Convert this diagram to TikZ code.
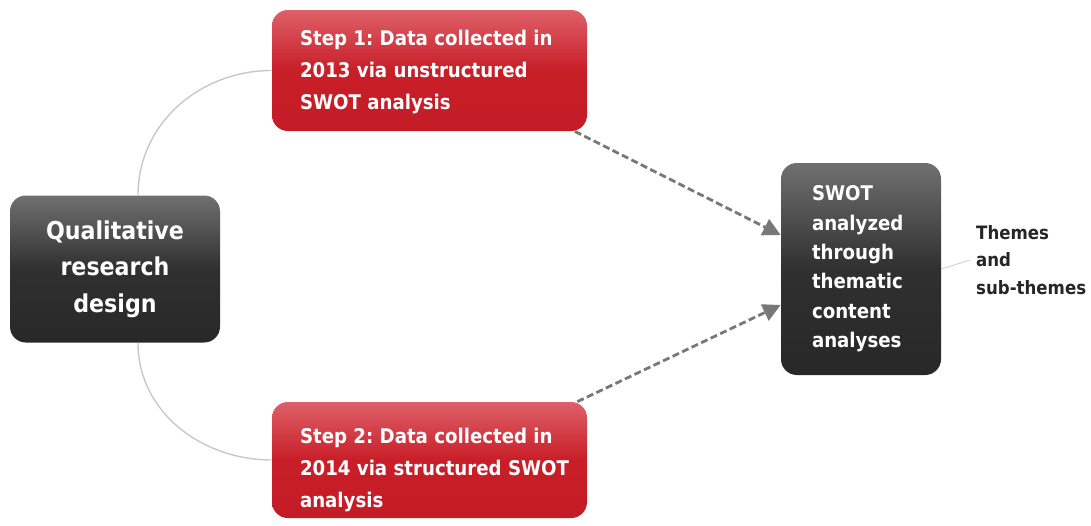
\documentclass[tikz,border=0pt]{standalone}
\usepackage{fontspec}
\setmainfont{DejaVu Sans Condensed}
\usepackage{tikz}
\usepackage{xcolor}
\usetikzlibrary{arrows.meta,positioning,calc}
\definecolor{dkT}{RGB}{112,112,112}
\definecolor{dkM}{RGB}{48,48,48}
\definecolor{dkB}{RGB}{40,40,40}
\definecolor{rdT}{RGB}{222,96,104}
\definecolor{rdM}{RGB}{200,30,40}
\definecolor{rdB}{RGB}{196,28,38}
\definecolor{lin}{RGB}{200,200,200}
\definecolor{arr}{RGB}{120,120,120}
\tikzset{
  darkbox/.style={rectangle,rounded corners=9pt,draw=none,
    top color=dkT,bottom color=dkB,middle color=dkM,
    text=white,font=\bfseries},
  redbox/.style={rectangle,rounded corners=9pt,draw=none,
    top color=rdT,bottom color=rdB,middle color=rdM,
    minimum width=6.3cm},
  redtext/.style={anchor=west,inner sep=0pt,align=left,text=white,
    font=\bfseries\fontsize{11.5}{18.2}\selectfont},
  branch/.style={draw=lin,thick},
  flow/.style={-{Triangle[width=10pt,length=10pt]},draw=arr,line width=1.6pt,dash pattern=on 4pt off 2pt},
}
\begin{document}
\frenchspacing
\begin{tikzpicture}
\useasboundingbox (0,0) rectangle (21.82,-10.5);

% --- main boxes ---
\node[darkbox,minimum width=4.2cm,minimum height=2.94cm,align=center,
  font=\bfseries\fontsize{14}{20.8}\selectfont] (Q) at (2.3,-5.38) {Qualitative\\research\\design};
\node[redbox,minimum height=2.42cm] (S1) at (8.59,-1.41) {};
\node[redtext] (S1t) at ([xshift=0.56cm,yshift=-0.03cm]S1.west)
  {Step 1: Data collected in\\2013 via unstructured\\SWOT analysis};
\node[redbox,minimum height=2.32cm] (S2) at (8.59,-9.2) {};
\node[redtext] (S2t) at ([xshift=0.56cm,yshift=-0.2cm]S2.west)
  {Step 2: Data collected in\\2014 via structured SWOT\\analysis};
\node[darkbox,minimum width=3.2cm,minimum height=4.24cm,align=left,text width=1.96cm,
  font=\bfseries\fontsize{11.5}{16.7}\selectfont] (W) at (17.22,-5.38)
  {SWOT\\analyzed\\through\\thematic\\content\\analyses};
\node[anchor=west,align=left,font=\bfseries\fontsize{10.5}{15.5}\selectfont,text=black!85] (T) at (19.4,-5.2)
  {Themes\\and\\sub-themes};

% --- branches ---
\draw[branch] ([xshift=0.46cm]Q.north) to[out=90,in=180] (S1.west);
\draw[branch] ([xshift=0.46cm]Q.south) to[out=-90,in=180] (S2.west);
\draw[branch,thin] (W.east) -- (T.west);

% dashed flows
\draw[flow] ([xshift=-0.25cm]S1.south east) -- ([yshift=0.68cm]W.west);
\draw[flow] ([xshift=-0.2cm]S2.north east) -- ([yshift=-0.72cm]W.west);
\end{tikzpicture}
\end{document}
